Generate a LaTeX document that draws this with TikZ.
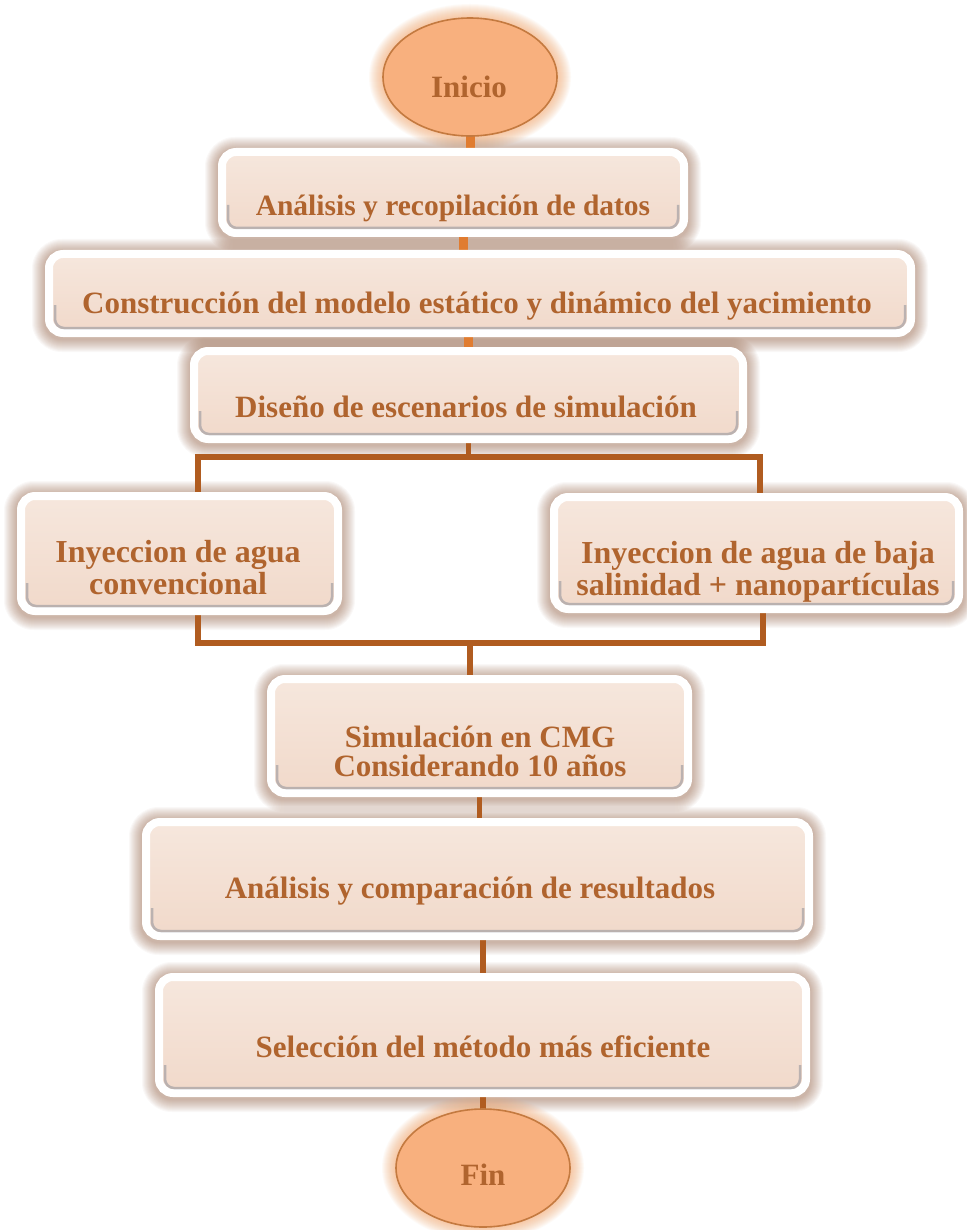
\documentclass[tikz,border=0pt]{standalone}
\usepackage{fontspec}
\setmainfont{Liberation Serif}
\usetikzlibrary{shapes.geometric}

\definecolor{peachtop}{HTML}{F6E7DD}
\definecolor{peachbot}{HTML}{F1D9CA}
\definecolor{inktext}{HTML}{B0642E}
\definecolor{linkbrown}{HTML}{B05C20}
\definecolor{linkorange}{HTML}{E07C30}
\definecolor{glowbrown}{HTML}{8C5434}
\definecolor{innershade}{HTML}{8E9099}
\definecolor{ovalfill}{HTML}{F8B07E}
\definecolor{ovaledge}{HTML}{C47A40}
\definecolor{ovalglow}{HTML}{F7A060}

\pgfdeclarelayer{paper}
\pgfdeclarelayer{glow}
\pgfdeclarelayer{links}
\pgfsetlayers{paper,glow,links,main}

\tikzset{
  stepbox/.style={rectangle, rounded corners=14pt, draw=white, line width=8pt,
    top color=peachtop, bottom color=peachbot, inner sep=0pt, outer sep=0pt},
  oval/.style={ellipse, fill=ovalfill, draw=ovaledge, line width=1.6pt,
    inner sep=0pt, outer sep=0pt, minimum width=174pt, minimum height=118pt},
  steptext/.style={text=inktext, font=\bfseries\fontsize{31}{28}\selectfont,
    align=center, anchor=base, inner sep=0pt},
  bigtext/.style={steptext, font=\bfseries\fontsize{32}{27}\selectfont},
  smalltext/.style={steptext, font=\bfseries\fontsize{29.5}{28}\selectfont},
  link/.style={linkbrown, line width=5.5pt},
  stub/.style={linkorange, line width=9pt},
  shadeline/.style={innershade, line width=2.5pt, opacity=.55, rounded corners=9pt},
}

% rounded box with soft brown halo and a grey inner shade along its foot
\newcommand\flowbox[5]{%
  \node[stepbox, minimum width={#4-#2-8}, minimum height={#5-#3-8}]
    (#1) at ({(#2+#4)/2},{(#3+#5)/2}) {};
  \begin{pgfonlayer}{glow}
    \foreach \k in {1,...,13}{
      \pgfmathsetmacro\rr{17+\k}
      \fill[glowbrown, opacity=0.04, rounded corners=\rr pt]
        ([shift={(-4-\k,6+\k)}]#1.south west) rectangle ([shift={(4+\k,-2-\k)}]#1.north east);
    }
  \end{pgfonlayer}
  \draw[shadeline] ([shift={(6,-28)}]#1.south west) -- ([shift={(6,-5)}]#1.south west)
    -- ([shift={(-6,-5)}]#1.south east) -- ([shift={(-6,-28)}]#1.south east);
}

% elliptic terminal with an orange halo
\newcommand\flowoval[3]{%
  \begin{pgfonlayer}{glow}
    \foreach \k in {1,...,14}{
      \fill[ovalglow, opacity=0.05] (#2,#3) ellipse [x radius={87+\k}, y radius={59+\k}];
    }
  \end{pgfonlayer}
  \node[oval] (#1) at (#2,#3) {};
}

\begin{document}
\begin{tikzpicture}[x=1pt,y=-1pt]
  \useasboundingbox (0,0) rectangle (966,1230);
  \begin{pgfonlayer}{paper}
    \fill[white] (0,0) rectangle (966,1230);
  \end{pgfonlayer}

  % terminals and process boxes
  \flowoval{inicio}{470}{77}
  \node[steptext] (tInicio) at (469,98) {Inicio};

  \flowbox{b1}{218}{148}{688}{237}
  \node[smalltext] (t1) at (453,216) {Análisis y recopilación de datos};

  \flowbox{b2}{45}{250}{915}{337}
  \node[steptext] (t2) at (477,313) {Construcción del modelo estático y dinámico del yacimiento};

  \flowbox{b3}{190}{347}{747}{443}
  \node[steptext] (t3) at (466,417) {Diseño de escenarios de simulación};

  \flowbox{bL}{17}{492}{342}{615}
  \node[bigtext] (tL) at (178,594) {Inyeccion de agua\\[1pt]convencional};

  \flowbox{bR}{550}{493}{963}{613}
  \node[bigtext] (tR) at (758,595) {Inyeccion de agua de baja\\[1pt]salinidad + nanopartículas};

  \flowbox{bS}{267}{675}{692}{797}
  \node[steptext] (tS) at (480,776) {Simulación en CMG\\[1pt]Considerando 10 años};

  \flowbox{bA}{142}{818}{813}{940}
  \node[steptext] (tA) at (470,898) {Análisis y comparación de resultados};

  \flowbox{bSel}{155}{973}{810}{1097}
  \node[steptext] (tSel) at (483,1057) {Selección del método más eficiente};

  \flowoval{fin}{483}{1168}
  \node[steptext] (tFin) at (483,1185) {Fin};

  % junction points of the two-way split
  \coordinate (splitL) at (198,457);
  \coordinate (splitR) at (760,457);
  \coordinate (joinL) at (198,643);
  \coordinate (joinR) at (763,643);
  \coordinate (joinM) at (470,643);

  \begin{pgfonlayer}{links}
    \draw[stub] (inicio.south) -- (inicio.south |- b1.north);
    \draw[stub] ([xshift=10pt]b1.south) -- ([xshift=10pt]b1.south |- b2.north);
    \draw[stub] ([xshift=-12pt]b2.south) -- ([xshift=-12pt]b2.south |- b3.north);
    \draw[link] (b3.south) -- (b3.south |- splitL);
    \draw[link] (bL.north -| splitL) -- (splitL) -- (splitR) -- (bR.north -| splitR);
    \draw[link] (bL.south -| joinL) -- (joinL) -- (joinR) -- (bR.south -| joinR);
    \draw[link] (joinM) -- (joinM |- bS.north);
    \draw[link] (bS.south) -- (bS.south |- bA.north);
    \draw[link] (fin.north |- bA.south) -- (fin.north |- bSel.north);
    \draw[link] (bSel.south -| fin.north) -- (fin.north);
  \end{pgfonlayer}
\end{tikzpicture}
\end{document}
